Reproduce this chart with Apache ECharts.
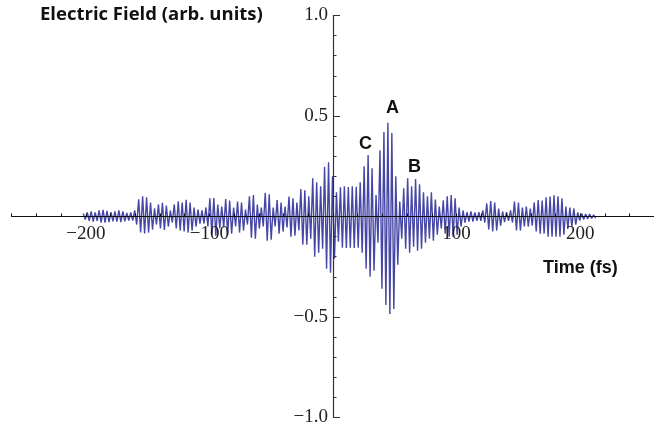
<!DOCTYPE html>
<html>
<head>
<meta charset="utf-8">
<script src="https://cdn.jsdelivr.net/npm/echarts@6/dist/echarts.min.js"></script>
<style>
html,body{margin:0;padding:0;background:#fff;}
#chart{width:654px;height:431px;}
</style>
</head>
<body>
<div id="chart"></div>
<script>
// time of the first positive peak and the cycle period (fs)
const t0 = -202;
const period = 3.2;
// positive peak of each optical cycle (arb. units)
const peaks = [
0.015,0.02,0.025,0.02,0.03,0.033,0.028,0.022,0.025,0.03,
0.026,0.018,0.02,0.03,0.085,0.10,0.095,0.07,0.04,0.06,
0.068,0.055,0.03,0.06,0.075,0.07,0.083,0.07,0.045,0.035,
0.03,0.045,0.09,0.092,0.06,0.05,0.087,0.08,0.045,0.074,
0.07,0.035,0.1,0.107,0.06,0.045,0.118,0.11,0.045,0.082,
0.07,0.05,0.099,0.09,0.07,0.137,0.13,0.1,0.19,0.17,
0.15,0.248,0.27,0.2,0.12,0.145,0.15,0.147,0.15,0.148,
0.17,0.25,0.306,0.24,0.107,0.33,0.42,0.467,0.415,0.20,
0.074,0.14,0.19,0.15,0.187,0.16,0.12,0.1,0.12,0.085,
0.05,0.08,0.1,0.107,0.09,0.045,0.03,0.022,0.025,0.02,
0.022,0.03,0.065,0.077,0.07,0.04,0.025,0.022,0.03,0.074,
0.07,0.045,0.05,0.04,0.07,0.082,0.08,0.095,0.099,0.105,
0.1,0.09,0.05,0.045,0.04,0.02,0.015,0.013,0.012,0.008
];
// negative trough of each optical cycle (arb. units)
const troughs = [
-0.015,-0.022,-0.025,-0.022,-0.03,-0.03,-0.028,-0.024,-0.025,-0.028,
-0.024,-0.02,-0.02,-0.04,-0.08,-0.085,-0.08,-0.065,-0.04,-0.06,
-0.067,-0.05,-0.03,-0.06,-0.07,-0.075,-0.08,-0.07,-0.05,-0.035,
-0.035,-0.05,-0.09,-0.095,-0.06,-0.055,-0.09,-0.085,-0.05,-0.08,
-0.07,-0.04,-0.105,-0.11,-0.06,-0.05,-0.12,-0.115,-0.05,-0.085,
-0.075,-0.055,-0.1,-0.095,-0.07,-0.14,-0.14,-0.11,-0.2,-0.18,
-0.16,-0.26,-0.28,-0.21,-0.125,-0.155,-0.157,-0.155,-0.157,-0.155,
-0.18,-0.26,-0.30,-0.27,-0.13,-0.36,-0.44,-0.485,-0.46,-0.24,
-0.11,-0.16,-0.18,-0.15,-0.17,-0.16,-0.13,-0.11,-0.12,-0.09,
-0.06,-0.085,-0.1,-0.1,-0.09,-0.05,-0.03,-0.025,-0.025,-0.022,
-0.022,-0.03,-0.065,-0.075,-0.07,-0.045,-0.028,-0.022,-0.03,-0.07,
-0.07,-0.05,-0.05,-0.045,-0.075,-0.085,-0.085,-0.1,-0.1,-0.1,
-0.1,-0.09,-0.06,-0.05,-0.04,-0.02,-0.015,-0.013,-0.01,-0.008
];
const xTickLabels = [-200, -100, 100, 200];
const yTickLabels = [-1.0, -0.5, 0.5, 1.0];
const labels = {title: 'Electric Field (arb. units)', xName: 'Time (fs)', peakA: 'A', peakB: 'B', peakC: 'C'};

const data = [];
for (let k = 0; k < peaks.length; k++) {
  const t = t0 + k * period;
  data.push([t, peaks[k]]);
  data.push([t + period / 2, troughs[k]]);
}

const X_MIN = -260, X_MAX = 260, Y_MIN = -1, Y_MAX = 1;
const G_LEFT = 11.6, G_TOP = 15.5, G_W = 642.8, G_H = 402;
const ZERO_X = G_LEFT + G_W * (0 - X_MIN) / (X_MAX - X_MIN);
const ZERO_Y = G_TOP + G_H * (Y_MAX - 0) / (Y_MAX - Y_MIN);

const minus = v => (v < 0 ? '\u2212' : '');
const serif = '"Liberation Serif", "Times New Roman", serif';
const boldArial = 'bold 18px "Liberation Sans", Arial, sans-serif';
const chart = echarts.init(document.getElementById('chart'), null, {renderer: 'canvas'});
chart.setOption({
  animation: false,
  backgroundColor: '#fff',
  grid: [
    {left: G_LEFT, top: G_TOP, width: G_W, height: G_H, containLabel: false, outerBoundsMode: 'none'},
    {left: G_LEFT, top: G_TOP, width: G_W, height: ZERO_Y - G_TOP, containLabel: false, outerBoundsMode: 'none'},
    {left: ZERO_X, top: G_TOP, width: G_LEFT + G_W - ZERO_X, height: G_H, containLabel: false, outerBoundsMode: 'none'}
  ],
  xAxis: [
    {type: 'value', gridIndex: 0, min: X_MIN, max: X_MAX, show: false},
    {
      type: 'value', gridIndex: 1, min: X_MIN, max: X_MAX, interval: 20, z: 5, position: 'bottom',
      splitLine: {show: false},
      axisLine: {onZero: false, lineStyle: {color: '#111', width: 1.2}},
      axisTick: {inside: true, length: 3, lineStyle: {color: '#111'}},
      axisLabel: {
        margin: 8, color: '#222', fontFamily: serif, fontSize: 19,
        formatter: v => xTickLabels.indexOf(v) >= 0 ? minus(v) + Math.abs(v) : ''
      }
    },
    {type: 'value', gridIndex: 2, min: 0, max: 1, show: false}
  ],
  yAxis: [
    {type: 'value', gridIndex: 0, min: Y_MIN, max: Y_MAX, show: false},
    {type: 'value', gridIndex: 1, min: 0, max: 1, show: false},
    {
      type: 'value', gridIndex: 2, min: Y_MIN, max: Y_MAX, interval: 0.5, z: 5, position: 'left',
      splitLine: {show: false},
      axisLine: {onZero: false, lineStyle: {color: '#333', width: 1.2}},
      axisTick: {inside: true, length: 7, lineStyle: {color: '#333'}},
      minorTick: {show: true, splitNumber: 5, length: 3.5, lineStyle: {color: '#333'}},
      axisLabel: {
        margin: 5, color: '#222', fontFamily: serif, fontSize: 19,
        formatter: v => yTickLabels.some(y => Math.abs(y - v) < 1e-9) ? minus(v) + Math.abs(v).toFixed(1) : ''
      }
    }
  ],
  series: [{
    type: 'line', xAxisIndex: 0, yAxisIndex: 0, data: data, symbol: 'none', z: 2,
    lineStyle: {color: '#4646a6', width: 1.4}
  }],
  graphic: [
    {type: 'text', left: 40, top: 5, style: {text: labels.title, font: 'bold 18.5px "Open Sans", Lato, sans-serif', fill: '#111'}},
    {type: 'text', left: 543, top: 259, style: {text: labels.xName, font: boldArial, fill: '#111'}},
    {type: 'text', left: 386, top: 99, style: {text: labels.peakA, font: boldArial, fill: '#111'}},
    {type: 'text', left: 408, top: 158, style: {text: labels.peakB, font: boldArial, fill: '#111'}},
    {type: 'text', left: 359, top: 135, style: {text: labels.peakC, font: boldArial, fill: '#111'}}
  ]
});
</script>
</body>
</html>
